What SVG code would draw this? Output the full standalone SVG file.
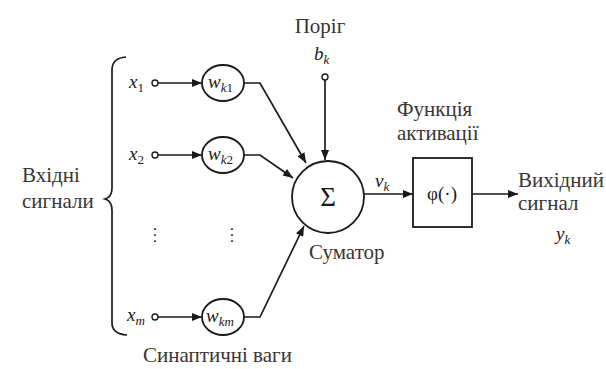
<svg xmlns="http://www.w3.org/2000/svg" width="606" height="369" viewBox="0 0 606 369">
  <defs>
    <marker id="arr" viewBox="0 0 10 8" refX="10" refY="4" markerWidth="11" markerHeight="8" markerUnits="userSpaceOnUse" orient="auto">
      <path d="M0,0 L10,4 L0,8 z" fill="#1a1a1a"/>
    </marker>
  </defs>
  <style>
    .ln { fill: none; stroke: #1a1a1a; stroke-width: 1.7; }
    .nd { fill: #fff; stroke: #1a1a1a; stroke-width: 1.8; }
    .pt { fill: #fff; stroke: #1a1a1a; stroke-width: 1.4; }
    .lbl { font-family: 'Liberation Serif', Tinos, 'Noto Serif', 'DejaVu Serif', FreeSerif, 'Times New Roman', serif; font-size: 21px; fill: #3a3434; }
    .it { font-family: 'Liberation Serif', Tinos, 'Noto Serif', 'DejaVu Serif', FreeSerif, 'Times New Roman', serif; font-style: italic; font-size: 19px; fill: #1a1a1a; }
    .sym { font-family: 'Liberation Serif', Tinos, 'Noto Serif', 'DejaVu Serif', FreeSerif, 'Times New Roman', serif; fill: #1a1a1a; }
    .sub { font-size: 13px; }
  </style>
  <rect width="606" height="369" fill="#fff"/>

  <!-- input brace -->
  <path class="ln" d="M126,57 Q112,58 112,70 L112,188 Q112,197 105,199 Q112,201 112,210 L112,323 Q112,334 127,335"/>
  <text class="lbl" x="22" y="182">Вхідні</text>
  <text class="lbl" x="22" y="208">сигнали</text>

  <!-- connectors -->
  <g id="connectors">
    <line class="ln" x1="158" y1="83" x2="202" y2="83" marker-end="url(#arr)"/>
    <line class="ln" x1="158" y1="155" x2="202" y2="155" marker-end="url(#arr)"/>
    <line class="ln" x1="158" y1="317" x2="202" y2="317" marker-end="url(#arr)"/>
    <polyline class="ln" points="244,83 260,83 306,163" marker-end="url(#arr)"/>
    <polyline class="ln" points="244,155 260,155 293,178" marker-end="url(#arr)"/>
    <polyline class="ln" points="244,317 260,317 304,226" marker-end="url(#arr)"/>
    <line class="ln" x1="325" y1="80" x2="325" y2="160" marker-end="url(#arr)"/>
    <line class="ln" x1="364" y1="194" x2="413" y2="194" marker-end="url(#arr)"/>
    <line class="ln" x1="472" y1="194" x2="518" y2="194" marker-end="url(#arr)"/>
  </g>

  <!-- inputs -->
  <g id="x1">
    <text class="it" x="129" y="88">x<tspan class="sub" dy="4" font-style="normal">1</tspan></text>
    <circle class="pt" cx="155" cy="83" r="3"/>
  </g>
  <g id="x2">
    <text class="it" x="129" y="160">x<tspan class="sub" dy="4" font-style="normal">2</tspan></text>
    <circle class="pt" cx="155" cy="155" r="3"/>
  </g>
  <g id="xm">
    <text class="it" x="127" y="321">x<tspan class="sub" dy="4">m</tspan></text>
    <circle class="pt" cx="155" cy="317" r="3"/>
  </g>
  <text class="sym" x="155" y="242" font-size="18" text-anchor="middle">⋮</text>

  <!-- synaptic weights -->
  <g id="wk1">
    <ellipse class="nd" cx="223" cy="83" rx="21" ry="18"/>
    <text class="it" x="208" y="88">w<tspan class="sub" dy="4">k</tspan><tspan class="sub" font-style="normal">1</tspan></text>
  </g>
  <g id="wk2">
    <ellipse class="nd" cx="223" cy="155" rx="21" ry="18"/>
    <text class="it" x="208" y="160">w<tspan class="sub" dy="4">k</tspan><tspan class="sub" font-style="normal">2</tspan></text>
  </g>
  <g id="wkm">
    <ellipse class="nd" cx="223" cy="317" rx="21" ry="18"/>
    <text class="it" x="206" y="322">w<tspan class="sub" dy="4">km</tspan></text>
  </g>
  <text class="sym" x="232" y="242" font-size="18" text-anchor="middle">⋮</text>
  <text class="lbl" x="143" y="362">Синаптичні ваги</text>

  <!-- bias -->
  <g id="bias">
    <text class="lbl" x="320" y="33" text-anchor="middle">Поріг</text>
    <text class="it" x="314" y="60">b<tspan class="sub" dy="4">k</tspan></text>
    <circle class="pt" cx="325" cy="77" r="3"/>
  </g>

  <!-- summing junction -->
  <g id="sum">
    <circle class="nd" cx="328" cy="197" r="36"/>
    <text class="sym" x="328" y="206" text-anchor="middle" font-size="27">Σ</text>
    <text class="lbl" x="309" y="259">Суматор</text>
  </g>
  <text class="it" x="375" y="187">v<tspan class="sub" dy="4">k</tspan></text>

  <!-- activation function -->
  <g id="activation">
    <text class="lbl" x="397" y="116">Функція</text>
    <text class="lbl" x="397" y="140">активації</text>
    <rect class="nd" x="413" y="158" width="59" height="69"/>
    <text class="sym" x="442" y="200" text-anchor="middle" font-size="19">φ(·)</text>
  </g>

  <!-- output -->
  <g id="output">
    <text class="lbl" x="518" y="187">Вихідний</text>
    <text class="lbl" x="518" y="210">сигнал</text>
    <text class="it" x="556" y="240" font-size="20">y<tspan class="sub" dy="4">k</tspan></text>
  </g>
</svg>
